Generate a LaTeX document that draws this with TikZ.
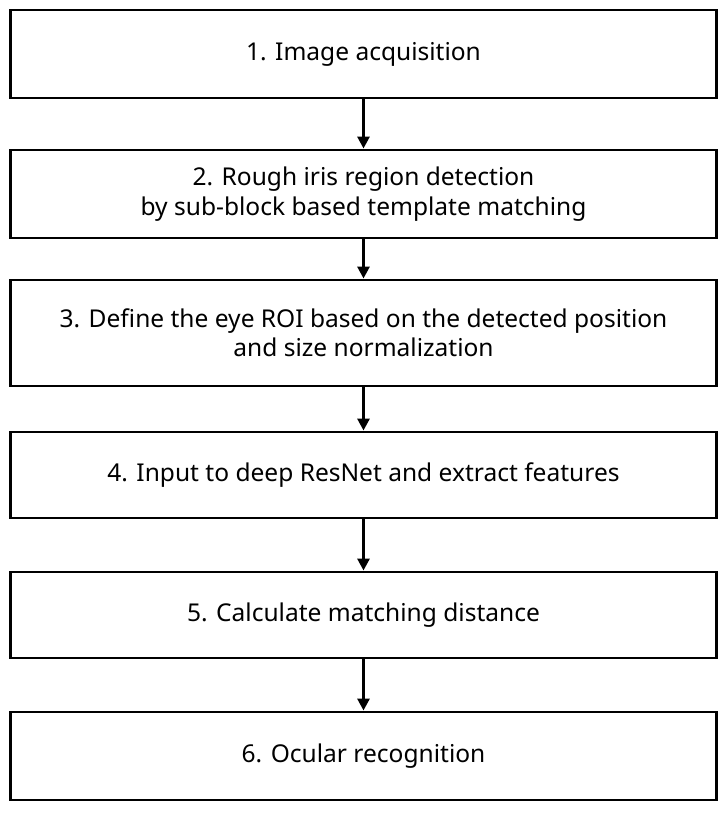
\documentclass[tikz,border=0pt]{standalone}
\usepackage{fontspec}
\setmainfont{Noto Sans}
\usetikzlibrary{arrows.meta}

\begin{document}
\begin{tikzpicture}[x=0.75pt,y=-0.75pt,
  stepbox/.style={draw,line width=2.2pt,minimum width=530pt,align=center,font=\fontsize{18.4}{22}\selectfont,inner sep=0pt},
  flow/.style={line width=2.2pt,-{Triangle[length=9pt,width=9pt]}}]
\useasboundingbox (0,0) rectangle (727,814);
\node [stepbox,minimum height=66pt] (s1) at (363.5,54) {1. Image acquisition};
\node [stepbox,minimum height=66pt] (s2) at (363.5,194) {2. Rough iris region detection\\by sub-block based template matching};
\node [stepbox,minimum height=79.5pt] (s3) at (363.5,333) {3. Define the eye ROI based on the detected position\\and size normalization};
\node [stepbox,minimum height=64.5pt] (s4) at (363.5,475) {4. Input to deep ResNet and extract features};
\node [stepbox,minimum height=64.5pt] (s5) at (363.5,615) {5. Calculate matching distance};
\node [stepbox,minimum height=66pt] (s6) at (363.5,756) {6. Ocular recognition};
\foreach \a/\b in {s1/s2,s2/s3,s3/s4,s4/s5,s5/s6}
  {\draw [flow] (\a) -- (\b);}
\end{tikzpicture}
\end{document}
